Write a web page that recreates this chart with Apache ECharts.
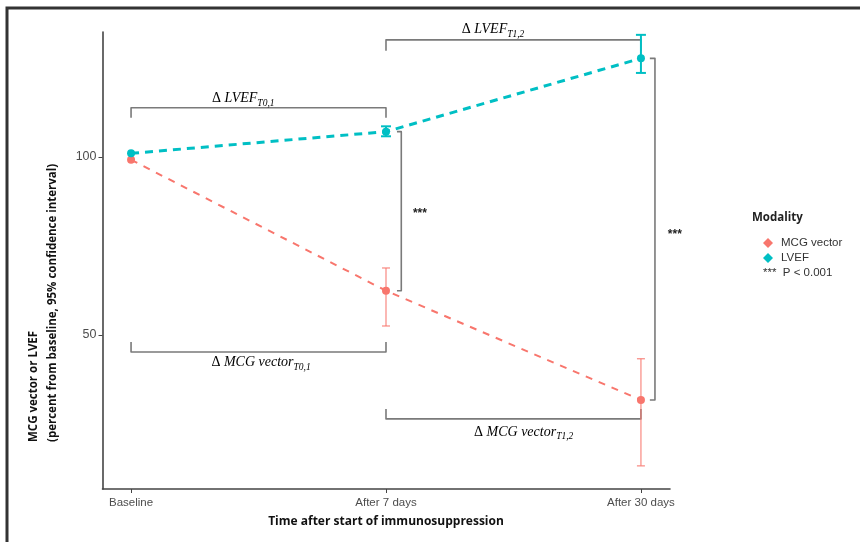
<!DOCTYPE html>
<html>
<head>
<meta charset="utf-8">
<script src="https://cdn.jsdelivr.net/npm/echarts@6/dist/echarts.min.js"></script>
<style>html,body{margin:0;padding:0;background:#fff}#c{width:860px;height:542px}</style>
</head>
<body>
<div id="c"></div>
<script>
// ---- data ----
const categories = ['Baseline', 'After 7 days', 'After 30 days'];
const catIndex = [0, 1, 2];
const mcgValues = [99.2, 62.4, 31.7];
const lvefValues = [101.0, 107.1, 127.7];
const mcgLow = [null, 52.5, 13.2];
const mcgHigh = [null, 68.8, 43.3];
const lvefLow = [null, 105.8, 123.6];
const lvefHigh = [null, 108.6, 134.3];
const yTicks = [50, 100];
// horizontal brackets: [xStart, xEnd, yLine, yTip]
const hBrackets = [
  [0, 1, 113.8, 111.0],
  [1, 2, 132.9, 129.8],
  [0, 1, 45.2, 48.0],
  [1, 2, 26.4, 29.2]
];
// vertical brackets: [xLine, xTip, yTop, yBottom]
const vBrackets = [
  [1.06, 1.043, 107.1, 62.4],
  [2.055, 2.035, 127.7, 31.7]
];
// bracket labels: [x, y, name, subscript]
const bracketLabels = [
  [0.44, 116.4, 'LVEF', 'T0,1'],
  [1.42, 135.8, 'LVEF', 'T1,2'],
  [0.51, 42.2, 'MCG vector', 'T0,1'],
  [1.54, 22.6, 'MCG vector', 'T1,2']
];
// significance marks: [x, y, text]
const sigMarks = [
  [1.133, 84.0, '***'],
  [2.133, 78.1, '***']
];

const RED = '#F8766D', TEAL = '#00BFC4';
const mcgData = catIndex.map((x, i) => [x, mcgValues[i]]);
const lvefData = catIndex.map((x, i) => [x, lvefValues[i]]);
const mcgErr = catIndex.map((x, i) => [x, mcgLow[i], mcgHigh[i]]).filter(d => d[1] != null);
const lvefErr = catIndex.map((x, i) => [x, lvefLow[i], lvefHigh[i]]).filter(d => d[1] != null);

function errRender(color, width, cap) {
  return function (params, api) {
    const x = api.value(0);
    const lo = api.coord([x, api.value(1)]);
    const hi = api.coord([x, api.value(2)]);
    const st = { stroke: color, lineWidth: width };
    return { type: 'group', children: [
      { type: 'line', shape: { x1: lo[0], y1: lo[1], x2: hi[0], y2: hi[1] }, style: st },
      { type: 'line', shape: { x1: lo[0] - cap, y1: lo[1], x2: lo[0] + cap, y2: lo[1] }, style: st },
      { type: 'line', shape: { x1: hi[0] - cap, y1: hi[1], x2: hi[0] + cap, y2: hi[1] }, style: st }
    ]};
  };
}
const bracketStyle = { stroke: '#7a7a7a', lineWidth: 1.6, fill: null, lineJoin: 'round' };
const SANS = 'Liberation Sans';

const chart = echarts.init(document.getElementById('c'), null, { renderer: 'canvas' });
chart.setOption({
  animation: false,
  backgroundColor: '#fff',
  grid: { left: 102.5, right: 190, top: 32, bottom: 53 },
  xAxis: {
    type: 'value', min: -0.112, max: 2.114,
    axisLine: { onZero: false, lineStyle: { color: '#444', width: 1.6 } },
    axisTick: { show: true, length: 4, customValues: catIndex, lineStyle: { color: '#444' } },
    axisLabel: { customValues: catIndex, formatter: v => categories[Math.round(v)], color: '#4d4d4d',
      fontFamily: SANS, fontSize: 11.5, margin: 8 },
    splitLine: { show: false }
  },
  yAxis: {
    type: 'value', min: 6.7, max: 135.1,
    axisLine: { show: true, onZero: false, lineStyle: { color: '#444', width: 1.6 } },
    axisTick: { show: true, length: 4, customValues: yTicks, lineStyle: { color: '#444' } },
    axisLabel: { customValues: yTicks, color: '#4d4d4d', fontFamily: SANS, fontSize: 12.5, margin: 6 },
    splitLine: { show: false }
  },
  legend: {
    data: ['MCG vector', 'LVEF'], orient: 'vertical', left: 763, top: 237, padding: 0,
    icon: 'diamond', itemWidth: 10, itemHeight: 10, itemGap: 3,
    textStyle: { fontFamily: SANS, fontSize: 11.5, color: '#333', padding: [0, 0, 0, 3] }
  },
  graphic: [
    { type: 'rect', shape: { x: 7, y: 8, width: 900, height: 600 }, style: { fill: null, stroke: '#333', lineWidth: 3 }, silent: true },
    { type: 'text', x: 752, y: 218, style: { text: 'Modality', font: 'bold 11.5px "Open Sans"', fill: '#222', verticalAlign: 'middle' } },
    { type: 'text', x: 763, y: 273, style: { text: '***  P < 0.001', font: '11.5px "Liberation Sans"', fill: '#333', verticalAlign: 'middle' } },
    { type: 'text', x: 386, y: 522, style: { text: 'Time after start of immunosuppression', font: 'bold 12px "Open Sans"', fill: '#111', align: 'center', verticalAlign: 'middle' } },
    { type: 'text', x: 43, y: 442, rotation: Math.PI / 2,
      style: { text: 'MCG vector or LVEF\n(percent from baseline, 95% confidence interval)', font: 'bold 11.5px "Open Sans"', lineHeight: 19, fill: '#111', align: 'left', verticalAlign: 'middle' } }
  ],
  series: [
    { type: 'custom', name: 'hb', silent: true, clip: false, data: hBrackets, encode: { x: [0, 1], y: [2, 3] },
      renderItem: (p, api) => {
        const a = api.coord([api.value(0), api.value(3)]), b = api.coord([api.value(0), api.value(2)]);
        const c = api.coord([api.value(1), api.value(2)]), d = api.coord([api.value(1), api.value(3)]);
        return { type: 'polyline', shape: { points: [a, b, c, d] }, style: bracketStyle };
      } },
    { type: 'custom', name: 'vb', silent: true, clip: false, data: vBrackets, encode: { x: [0, 1], y: [2, 3] },
      renderItem: (p, api) => {
        const a = api.coord([api.value(1), api.value(2)]), b = api.coord([api.value(0), api.value(2)]);
        const c = api.coord([api.value(0), api.value(3)]), d = api.coord([api.value(1), api.value(3)]);
        return { type: 'polyline', shape: { points: [a, b, c, d] }, style: bracketStyle };
      } },
    { type: 'custom', name: 'labels', silent: true, clip: false, data: bracketLabels, encode: { x: 0, y: 1 },
      renderItem: (p, api) => {
        const pt = api.coord([api.value(0), api.value(1)]);
        const item = bracketLabels[p.dataIndex];
        return { type: 'text', x: pt[0], y: pt[1], style: {
          text: '{d|Δ }{m|' + item[2] + '}{s|' + item[3] + '}', align: 'center', verticalAlign: 'middle',
          rich: {
            d: { fontFamily: 'Liberation Serif', fontSize: 14, color: '#333' },
            m: { fontFamily: 'Liberation Serif', fontStyle: 'italic', fontSize: 14, color: '#333' },
            s: { fontFamily: 'Liberation Serif', fontStyle: 'italic', fontSize: 9.5, color: '#333', padding: [9, 0, 0, 0] }
          } } };
      } },
    { type: 'custom', name: 'sig', silent: true, clip: false, data: sigMarks, encode: { x: 0, y: 1 },
      renderItem: (p, api) => {
        const pt = api.coord([api.value(0), api.value(1)]);
        return { type: 'text', x: pt[0], y: pt[1], style: { text: sigMarks[p.dataIndex][2], font: 'bold 12px "Liberation Sans"', fill: '#222', align: 'center', verticalAlign: 'middle' } };
      } },
    { type: 'custom', name: 'mcgErr', silent: true, data: mcgErr, encode: { x: 0, y: [1, 2] }, renderItem: errRender('rgba(248,118,109,0.8)', 1.3, 4) },
    { type: 'custom', name: 'lvefErr', silent: true, data: lvefErr, encode: { x: 0, y: [1, 2] }, renderItem: errRender(TEAL, 2, 5) },
    { type: 'line', name: 'MCG vector', data: mcgData, symbol: 'circle', symbolSize: 8,
      itemStyle: { color: RED }, lineStyle: { color: RED, width: 2, type: [7, 7] } },
    { type: 'line', name: 'LVEF', data: lvefData, symbol: 'circle', symbolSize: 8,
      itemStyle: { color: TEAL }, lineStyle: { color: TEAL, width: 3, type: [8, 6] } }
  ]
});
</script>
</body>
</html>
